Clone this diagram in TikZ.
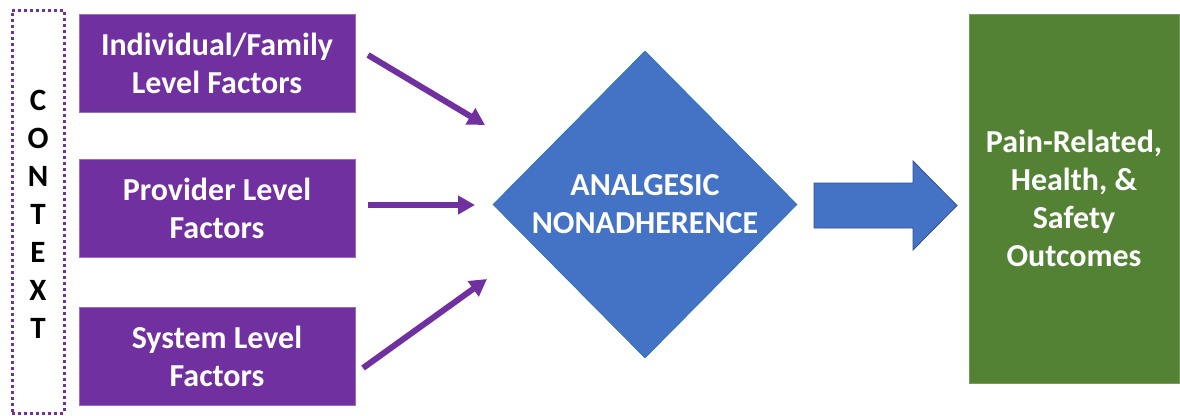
\documentclass[tikz,border=0pt]{standalone}
\usepackage{fontspec}
\setmainfont{Carlito}
\usepackage{xcolor}
\usetikzlibrary{positioning, arrows.meta, shapes.geometric}
\definecolor{factpurple}{HTML}{7030A0}
\definecolor{diamblue}{HTML}{4472C4}
\definecolor{diamedge}{HTML}{2E75B6}
\definecolor{flowedge}{HTML}{2F528F}
\definecolor{outgreen}{HTML}{548235}
\tikzset{
  factor/.style={
    rectangle, fill=factpurple, draw=factpurple!70,
    minimum width=276pt, minimum height=98pt,
    text=white, align=center, inner sep=0pt,
    font=\fontsize{32}{38}\selectfont\bfseries
  },
  ctxbox/.style={
    rectangle, draw=factpurple, line width=3pt,
    dash pattern=on 3pt off 3pt,
    minimum width=52pt, minimum height=403pt
  },
  ctxletter/.style={font=\fontsize{31}{34}\selectfont\bfseries, inner sep=0pt},
  decision/.style={
    diamond, fill=diamblue, draw=diamedge, line width=0.8pt,
    minimum width=304pt, minimum height=307pt,
    text=white, align=center, inner sep=0pt,
    font=\fontsize{32}{38}\selectfont\bfseries
  },
  outbox/.style={
    rectangle, fill=outgreen, draw=outgreen!80,
    minimum width=210pt, minimum height=369pt,
    text=white, align=center, inner sep=0pt,
    font=\fontsize{32}{38}\selectfont\bfseries
  },
  farr/.style={-{Triangle[length=17pt, width=18pt]}, line width=6pt, factpurple},
  flowarr/.style={fill=diamblue, draw=flowedge, line width=0.8pt, line join=miter},
}
\begin{document}
\begin{tikzpicture}[x=1pt, y=-1pt]
  \useasboundingbox (0,0) rectangle (1180,415);
  \node[ctxbox] (ctx) at (38,211.5) {};
  \foreach \ch [count=\i] in {C,O,N,T,E,X,T}{
    \node[ctxletter] (ctx\i) at (38, 62+38*\i) {\ch};
  }
  \node[factor] (indiv) at (217,63) {Individual/Family\\Level Factors};
  \node[factor] (prov) at (217,208.5) {Provider Level\\Factors};
  \node[factor] (sys) at (217,356) {System Level\\Factors};
  \node[decision] (nonadh) at (645,204.5) {ANALGESIC\\NONADHERENCE};
  \node[outbox] (outc) at (1074,198.5) {Pain-Related,\\Health, \&\\Safety\\Outcomes};
  \coordinate (a1s) at (368,55);
  \coordinate (a1e) at (485,125);
  \coordinate (a2s) at (368,205);
  \coordinate (a2e) at (475,205);
  \coordinate (a3s) at (363,368);
  \coordinate (a3e) at (487,279);
  \draw[farr] (a1s) -- (a1e);
  \draw[farr] (a2s) -- (a2e);
  \draw[farr] (a3s) -- (a3e);
  \draw[flowarr] (814,183) -- (913,183) -- (913,161) -- (957,205.5)
    -- (913,250) -- (913,228) -- (814,228) -- cycle;
\end{tikzpicture}
\end{document}
